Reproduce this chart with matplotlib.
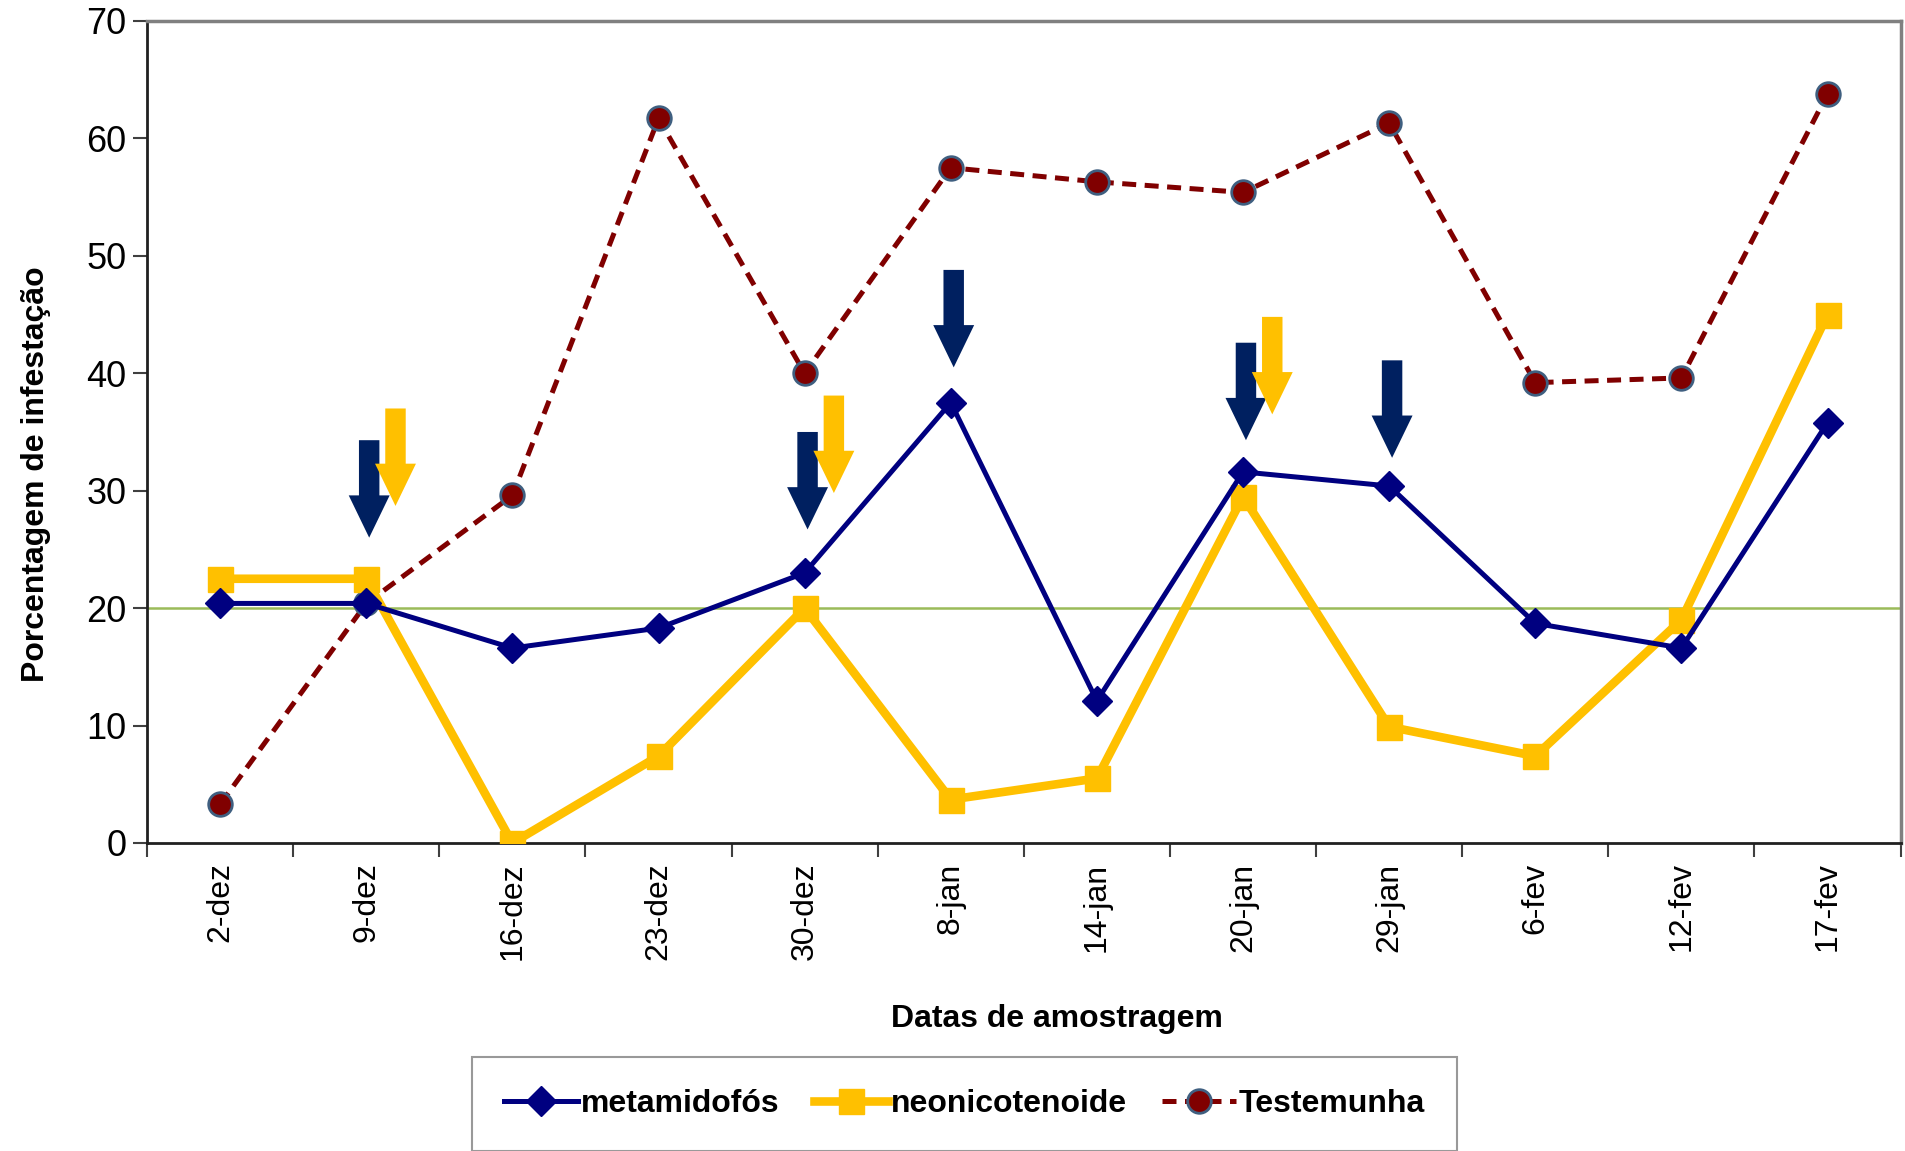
import matplotlib
matplotlib.use('Agg')
import matplotlib.pyplot as plt
from matplotlib.patches import FancyArrow
import numpy as np

plt.rcParams['font.family'] = ['Liberation Sans', 'DejaVu Sans']

# Sampling dates
datas = ['2-dez', '9-dez', '16-dez', '23-dez', '30-dez', '8-jan',
         '14-jan', '20-jan', '29-jan', '6-fev', '12-fev', '17-fev']

# Infestation percentages per treatment
metamidofos = [20.4, 20.4, 16.6, 18.3, 23.0, 37.5, 12.1, 31.6, 30.4, 18.7, 16.6, 35.8]
neonicotenoide = [22.5, 22.5, 0.0, 7.4, 20.0, 3.7, 5.5, 29.5, 9.9, 7.4, 19.0, 45.0]
testemunha = [3.3, 20.4, 29.6, 61.7, 40.0, 57.5, 56.3, 55.4, 61.3, 39.2, 39.6, 63.8]

# Action threshold
limite = 20

# Application dates: (date index, treatment)
aplicacoes = [(1, 'metamidofós'), (1, 'neonicotenoide'),
              (4, 'metamidofós'), (4, 'neonicotenoide'),
              (5, 'metamidofós'),
              (7, 'metamidofós'), (7, 'neonicotenoide'),
              (8, 'metamidofós')]
# arrow tip heights for each application
pontas = [26.0, 28.7, 26.7, 29.8, 40.5, 34.3, 36.5, 32.8]

NAVY = '#000080'
YELLOW = '#FFC000'
MAROON = '#800000'
ARROW_NAVY = '#002060'

fig = plt.figure(figsize=(19.05, 11.51), dpi=100)
ax = fig.add_axes([0.0772, 0.2676, 0.9205, 0.7142])

x = np.arange(len(datas))

ax.axhline(limite, color='#9BBB59', lw=1.8, zorder=1)

ax.plot(x, testemunha, color=MAROON, lw=3.6, ls=(0, (2.8, 1.7)),
        marker='o', ms=17, mfc=MAROON, mec='#3F5F80', mew=2,
        label='Testemunha', zorder=3)
ax.plot(x, neonicotenoide, color=YELLOW, lw=6.2,
        marker='s', ms=18, mfc=YELLOW, mec=YELLOW,
        label='neonicotenoide', zorder=4)
ax.plot(x, metamidofos, color=NAVY, lw=3.6,
        marker='D', ms=15, mfc=NAVY, mec=NAVY,
        label='metamidofós', zorder=5)

# application arrows
for (i, trat), tip in zip(aplicacoes, pontas):
    if trat == 'metamidofós':
        xa, cor = i + 0.02, ARROW_NAVY
    else:
        xa, cor = i + 0.2, YELLOW
    comp = 8.3
    ax.add_patch(FancyArrow(xa, tip + comp, 0, -comp, width=0.14,
                            head_width=0.28, head_length=3.6,
                            length_includes_head=True, color=cor,
                            lw=0, zorder=6))

ax.set_xlim(-0.5, len(datas) - 0.5)
ax.set_ylim(0, 70)
ax.set_yticks(range(0, 71, 10))
ax.set_xticks(x)
ax.set_xticklabels(datas, rotation=90)
ax.set_xticks(np.arange(-0.5, len(datas), 1), minor=True)
ax.tick_params(axis='x', which='major', length=0, labelsize=23, pad=14)
ax.tick_params(axis='x', which='minor', length=10, width=1.5, color='#404040')
ax.tick_params(axis='y', length=10, width=1.5, labelsize=26, pad=5, color='#404040')

for s in ['left', 'bottom']:
    ax.spines[s].set_color('#202020')
    ax.spines[s].set_linewidth(2)
for s in ['top', 'right']:
    ax.spines[s].set_color('#808080')
    ax.spines[s].set_linewidth(2.5)

ax.set_ylabel('Porcentagem de infestação', fontsize=23, fontweight='bold')
ax.set_xlabel('Datas de amostragem', fontsize=23, fontweight='bold')
ax.yaxis.set_label_coords(-0.055, 0.449)
ax.xaxis.set_label_coords(0.519, -0.196)

# legend in series order, box runs off the bottom edge
h, l = ax.get_legend_handles_labels()
ordem = [2, 1, 0]
leg = fig.legend([h[k] for k in ordem], [l[k] for k in ordem],
                 loc='upper center', bbox_to_anchor=(0.5064, 0.0817),
                 ncol=3, frameon=True, fancybox=False,
                 prop={'weight': 'bold', 'size': 23}, handlelength=2.3,
                 handletextpad=0.1, borderpad=1.0, columnspacing=1.1,
                 borderaxespad=0)
leg.get_frame().set_edgecolor('#808080')
leg.get_frame().set_linewidth(1.5)

fig.savefig('out.png', dpi=100)
